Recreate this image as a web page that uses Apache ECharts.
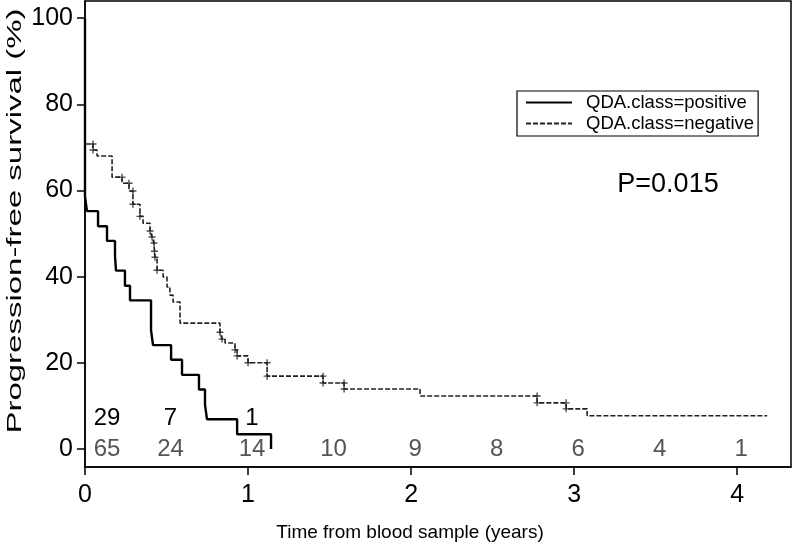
<!DOCTYPE html>
<html><head><meta charset="utf-8">
<script src="https://cdn.jsdelivr.net/npm/echarts@6/dist/echarts.min.js"></script>
<style>html,body{margin:0;padding:0;background:#fff}#c{width:793px;height:548px}</style>
</head><body><div id="c"></div>
<script>
// Kaplan-Meier step data (time in years, survival %)
var posTime = [0, 0, 0.012, 0.080, 0.135, 0.184, 0.190, 0.245, 0.276, 0.405, 0.417, 0.528, 0.595, 0.699, 0.736, 0.748, 0.933, 1.141];
var posSurv = [100, 58.6, 55.2, 51.7, 48.3, 44.8, 41.4, 37.9, 34.5, 27.6, 24.1, 20.7, 17.2, 13.8, 10.3, 6.9, 3.4, 0];

var negTime = [0, 0, 0.049, 0.074, 0.166, 0.227, 0.270, 0.294, 0.337, 0.356, 0.399, 0.411, 0.423, 0.426, 0.429, 0.442, 0.479, 0.503, 0.521, 0.540, 0.583, 0.828, 0.840, 0.859, 0.920, 0.933, 1.000, 1.117, 1.460, 1.589, 2.055, 2.773, 2.951, 3.080, 4.184];
var negSurv = [100, 70.8, 69.4, 68.0, 63.1, 61.7, 59.9, 56.8, 54.0, 52.4, 50.6, 49.2, 47.8, 45.9, 44.5, 41.5, 39.9, 37.6, 35.7, 34.1, 29.2, 27.1, 25.5, 24.6, 23.0, 21.6, 20.0, 16.9, 15.3, 13.9, 12.3, 10.7, 9.3, 7.7, 7.7];

// censoring marks on the negative curve
var negCensT = [0.049, 0.049, 0.227, 0.270, 0.294, 0.294, 0.337, 0.399, 0.411, 0.423, 0.426, 0.429, 0.442, 0.828, 0.840, 0.920, 0.933, 1.000, 1.117, 1.117, 1.460, 1.460, 1.589, 1.589, 2.773, 2.773, 2.951, 2.951];
var negCensV = [70.8, 69.4, 63.1, 61.7, 59.9, 56.8, 54.0, 50.6, 49.2, 47.8, 45.9, 44.5, 41.5, 27.1, 25.5, 23.0, 21.6, 20.0, 20.0, 16.9, 16.9, 15.3, 15.3, 13.9, 12.3, 10.7, 10.7, 9.3];

// numbers at risk
var riskTimes = [0, 0.5, 1, 1.5, 2, 2.5, 3, 3.5, 4];
var posRisk = [29, 7, 1];
var negRisk = [65, 24, 14, 10, 9, 8, 6, 4, 1];

var xTicks = [0, 1, 2, 3, 4];
var yTicks = [0, 20, 40, 60, 80, 100];

var names = ['QDA.class=positive', 'QDA.class=negative'];
var pValue = 'P=0.015';
var xTitle = 'Time from blood sample (years)';
var yTitle = 'Progression-free survival (%)';

function zip(a, b) { return a.map(function (v, i) { return [v, b[i]]; }); }

var FONT = '"Liberation Sans", Arial, Helvetica, sans-serif';
var chart = echarts.init(document.getElementById('c'), null, { renderer: 'canvas' });

var posRowY = 7.2, negRowY = 0;
function riskData(arr, rowY) { return arr.map(function (n, i) { return [riskTimes[i], rowY, n]; }); }
function riskLabel(color) {
  return {
    show: true, position: 'inside', color: color, opacity: 1, fontSize: 24, fontFamily: FONT,
    formatter: function (p) { return String(p.value[2]); }
  };
}
function riskShift(p) { return p.dataIndex === 0 ? { dx: 22 } : { dx: 4 }; }

var option = {
  animation: false,
  backgroundColor: '#fff',
  grid: { left: 85, top: 1, right: 2, bottom: 81, show: true, borderColor: '#000', borderWidth: 1.5, backgroundColor: 'transparent' },
  xAxis: {
    type: 'value', min: 0, max: 4.33,
    axisLine: { show: true, onZero: false, lineStyle: { color: '#000', width: 1.5 } },
    axisTick: { show: true, customValues: xTicks, length: 8, inside: false, lineStyle: { color: '#000', width: 1.5 } },
    axisLabel: { customValues: xTicks, color: '#000', fontSize: 25, fontFamily: FONT, margin: 16 },
    splitLine: { show: false }
  },
  yAxis: {
    type: 'value', min: -4.2, max: 104,
    axisLine: { show: true, onZero: false, lineStyle: { color: '#000', width: 1.5 } },
    axisTick: { show: true, customValues: yTicks, length: 8, lineStyle: { color: '#000', width: 1.5 } },
    axisLabel: { customValues: yTicks, color: '#000', fontSize: 25, fontFamily: FONT, margin: 12 },
    splitLine: { show: false }
  },
  legend: {
    data: [
      { name: names[0], itemStyle: { opacity: 0 } },
      { name: names[1], itemStyle: { opacity: 0 } }
    ],
    orient: 'vertical',
    left: 517, top: 91,
    itemWidth: 46, itemHeight: 10, itemGap: 2,
    padding: [2, 4, 3, 8],
    borderColor: '#000', borderWidth: 1.2,
    textStyle: { fontSize: 18.5, fontFamily: FONT, color: '#000', padding: [0, 0, 0, 9] }
  },
  graphic: [
    { type: 'text', x: 668, y: 185, style: { text: pValue, font: '27px ' + FONT, fill: '#000', textAlign: 'center', textVerticalAlign: 'middle' } },
    { type: 'text', x: 410, y: 533, style: { text: xTitle, font: '19px ' + FONT, fill: '#000', textAlign: 'center', textVerticalAlign: 'middle' } },
    { type: 'text', x: 15, y: 221, rotation: Math.PI / 2, scaleX: 1.57, style: { text: yTitle, font: '21px ' + FONT, fill: '#000', textAlign: 'center', textVerticalAlign: 'middle' } }
  ],
  series: [
    {
      name: names[0], type: 'line', step: 'end', symbol: 'none',
      data: zip(posTime, posSurv),
      lineStyle: { color: '#000', width: 2.4 }, itemStyle: { color: '#000' }, z: 3
    },
    {
      name: names[1], type: 'line', step: 'end', symbol: 'none',
      data: zip(negTime, negSurv),
      lineStyle: { color: '#222', width: 1.6, type: [5, 2] }, itemStyle: { color: '#222' }, z: 2
    },
    {
      name: 'censor', type: 'scatter', data: zip(negCensT, negCensV),
      symbol: 'path://M2,0H3V2H5V3H3V5H2V3H0V2H2Z', symbolSize: 7,
      itemStyle: { color: '#222' }, z: 4
    },
    {
      name: 'riskPos', type: 'scatter', data: riskData(posRisk, posRowY), symbol: 'circle', symbolSize: 0,
      itemStyle: { color: '#000' }, label: riskLabel('#000'), labelLayout: riskShift, z: 5
    },
    {
      name: 'riskNeg', type: 'scatter', data: riskData(negRisk, negRowY), symbol: 'circle', symbolSize: 0,
      itemStyle: { color: '#555' }, label: riskLabel('#555'), labelLayout: riskShift, z: 5
    }
  ]
};
chart.setOption(option);
</script>
</body></html>
